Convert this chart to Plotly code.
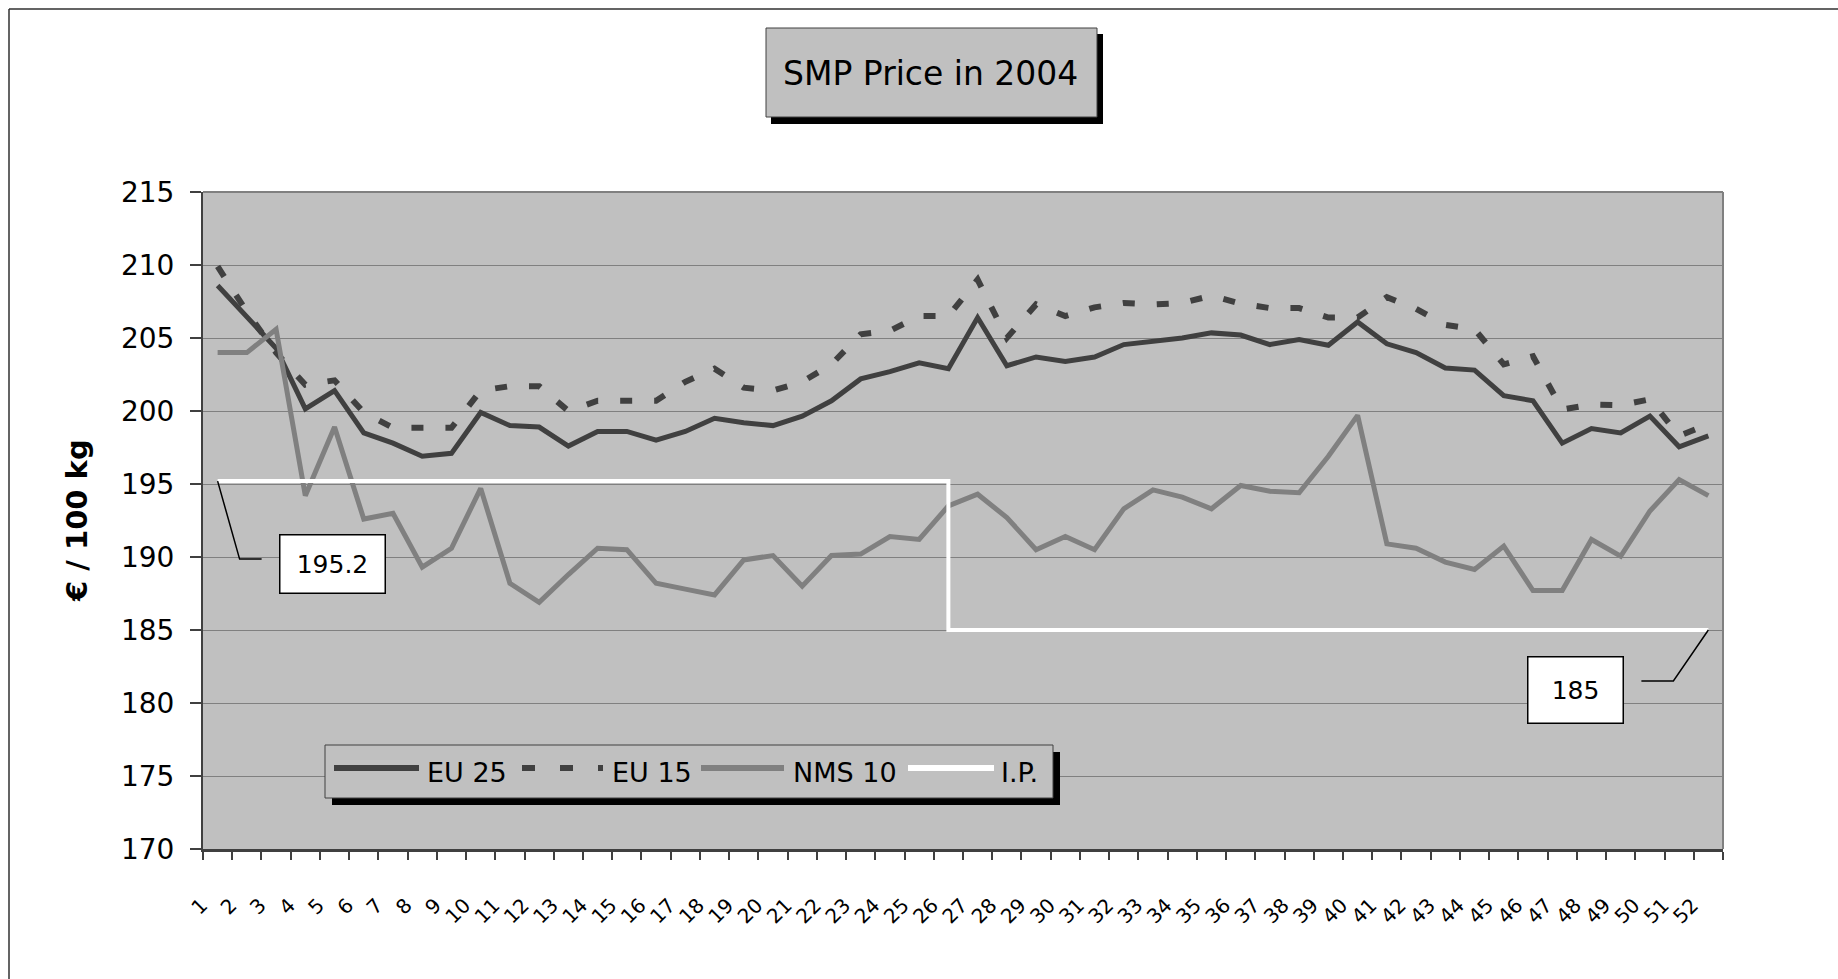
import plotly.graph_objects as go

# ---------------- data ----------------
weeks = list(range(1, 53))
week_labels = [str(w) for w in weeks]

eu25 = [208.6, 206.5, 204.3, 200.15, 201.4, 198.5, 197.8, 196.9, 197.1, 199.9,
        199.0, 198.9, 197.6, 198.6, 198.6, 198.0, 198.6, 199.5, 199.2, 199.0,
        199.65, 200.7, 202.2, 202.7, 203.3, 202.9, 206.4, 203.1, 203.7, 203.4,
        203.7, 204.55, 204.8, 205.0, 205.35, 205.2, 204.55, 204.9, 204.5, 206.1,
        204.6, 204.0, 202.95, 202.8, 201.05, 200.7, 197.8, 198.8, 198.5, 199.65,
        197.55, 198.3]

eu15 = [209.9, 206.8, 204.0, 201.8, 202.1, 199.9, 198.85, 198.8, 198.85, 201.4,
        201.7, 201.7, 200.0, 200.7, 200.7, 200.7, 202.0, 202.9, 201.6, 201.4,
        202.0, 203.2, 205.25, 205.5, 206.5, 206.5, 209.0, 205.0, 207.3, 206.5,
        207.1, 207.4, 207.3, 207.4, 207.9, 207.35, 207.05, 207.05, 206.4, 206.4,
        207.8, 207.0, 205.9, 205.6, 203.2, 203.75, 200.1, 200.45, 200.4, 200.8,
        198.3, 199.1]

nms10 = [204.0, 204.0, 205.6, 194.2, 198.9, 192.6, 193.0, 189.3, 190.6, 194.7,
         188.2, 186.9, 188.8, 190.6, 190.5, 188.2, 187.8, 187.4, 189.8, 190.1,
         188.0, 190.1, 190.2, 191.4, 191.2, 193.5, 194.3, 192.7, 190.5, 191.4,
         190.5, 193.3, 194.6, 194.1, 193.3, 194.9, 194.5, 194.4, 196.9, 199.7,
         190.9, 190.6, 189.65, 189.15, 190.75, 187.7, 187.7, 191.2, 190.05, 193.15,
         195.3, 194.2]

ip_weeks = [1, 26, 26, 52]
ip_values = [195.2, 195.2, 185.0, 185.0]

y_ticks = [170, 175, 180, 185, 190, 195, 200, 205, 210, 215]

title_text = "SMP Price in 2004"
y_title = "€ / 100 kg"
series_names = ["EU 25", "EU 15", "NMS 10", "I.P."]
ip_first_label = "195.2"
ip_second_label = "185"

# ---------------- layout geometry (pixels) ----------------
W, H = 1838, 979
L, R, T, B = 203, 1723, 192, 849
FONT = "DejaVu Sans"
DARK = "#404040"
MID = "#808080"
BG = "#c0c0c0"


def px(x):
    return (x - L) / (R - L)


def py(y):
    return (B - y) / (B - T)


fig = go.Figure()

fig.add_trace(go.Scatter(x=weeks, y=eu25, mode="lines", name=series_names[0],
                         line=dict(color=DARK, width=5)))
fig.add_trace(go.Scatter(x=weeks, y=eu15, mode="lines", name=series_names[1],
                         line=dict(color=DARK, width=6, dash="12px,22px")))
fig.add_trace(go.Scatter(x=weeks, y=nms10, mode="lines", name=series_names[2],
                         line=dict(color=MID, width=5)))
fig.add_trace(go.Scatter(x=ip_weeks, y=ip_values, mode="lines", name=series_names[3],
                         line=dict(color="white", width=4)))

shapes = []
annotations = []

# outer chart border (top and left)
shapes.append(dict(type="line", xref="paper", yref="paper", x0=px(9), x1=px(W + 5),
                   y0=py(9), y1=py(9), line=dict(color="#303030", width=1.5)))
shapes.append(dict(type="line", xref="paper", yref="paper", x0=px(9), x1=px(9),
                   y0=py(9), y1=py(H + 5), line=dict(color="#303030", width=1.5)))

# plot area top/right border
shapes.append(dict(type="line", xref="paper", yref="paper", x0=0, x1=1, y0=1, y1=1,
                   line=dict(color=MID, width=2)))
shapes.append(dict(type="line", xref="paper", yref="paper", x0=1, x1=1, y0=0, y1=1,
                   line=dict(color=MID, width=2)))

# title box with shadow
shapes.append(dict(type="rect", xref="paper", yref="paper", x0=px(771), x1=px(1103),
                   y0=py(34), y1=py(124), fillcolor="black", line=dict(width=0)))
shapes.append(dict(type="rect", xref="paper", yref="paper", x0=px(766), x1=px(1097),
                   y0=py(28), y1=py(117), fillcolor=BG, line=dict(color=DARK, width=1)))
annotations.append(dict(text=title_text, xref="paper", yref="paper", x=px(930), y=py(73),
                        showarrow=False, xanchor="center", yanchor="middle",
                        font=dict(family=FONT, size=33, color="black")))

# y-axis title
annotations.append(dict(text="<b>" + y_title + "</b>", xref="paper", yref="paper",
                        x=px(77), y=py(521), showarrow=False, textangle=-90,
                        xanchor="center", yanchor="middle",
                        font=dict(family=FONT, size=29, color="black")))

# legend (drawn) with shadow
shapes.append(dict(type="rect", xref="paper", yref="paper", x0=px(332), x1=px(1060),
                   y0=py(752), y1=py(805), fillcolor="black", line=dict(width=0),
                   layer="above"))
shapes.append(dict(type="rect", xref="paper", yref="paper", x0=px(325), x1=px(1053),
                   y0=py(745), y1=py(798), fillcolor=BG, line=dict(color=DARK, width=1),
                   layer="above"))
leg_y = py(768)
legend_items = [
    (334, 419, DARK, None, 425),
    (522, 603, DARK, "13px,25px", 610),
    (701, 784, MID, None, 791),
    (908, 994, "white", None, 999),
]
for (xa, xb, col, dash, tx), name in zip(legend_items, series_names):
    ln = dict(color=col, width=6)
    if dash:
        ln["dash"] = dash
    shapes.append(dict(type="line", xref="paper", yref="paper", x0=px(xa), x1=px(xb),
                       y0=leg_y, y1=leg_y, line=ln, layer="above"))
    annotations.append(dict(text=name, xref="paper", yref="paper", x=px(tx), y=py(772),
                            showarrow=False, xanchor="left", yanchor="middle",
                            font=dict(family=FONT, size=27, color="black")))

# I.P. value callouts
shapes.append(dict(type="path", xref="x", yref="y", xsizemode="pixel", ysizemode="pixel",
                   xanchor=ip_weeks[0], yanchor=ip_values[0],
                   path="M0,0 L22,-78 L44,-78", line=dict(color="black", width=1.5)))
annotations.append(dict(text=ip_first_label, xref="x", yref="y", x=ip_weeks[0], y=ip_values[0],
                        xshift=114.5, yshift=-82.5, showarrow=False,
                        width=104, height=57, bgcolor="white", bordercolor="black",
                        borderwidth=1.5, borderpad=0,
                        font=dict(family=FONT, size=25, color="black")))
shapes.append(dict(type="path", xref="x", yref="y", xsizemode="pixel", ysizemode="pixel",
                   xanchor=ip_weeks[-1], yanchor=ip_values[-1],
                   path="M0,0 L-35,-51 L-67,-51", line=dict(color="black", width=1.5)))
annotations.append(dict(text=ip_second_label, xref="x", yref="y", x=ip_weeks[-1], y=ip_values[-1],
                        xshift=-132.5, yshift=-60, showarrow=False,
                        width=94, height=65, bgcolor="white", bordercolor="black",
                        borderwidth=1.5, borderpad=0,
                        font=dict(family=FONT, size=25, color="black")))

fig.update_layout(
    width=W, height=H,
    margin=dict(l=L, r=W - R, t=T, b=H - B, pad=0),
    paper_bgcolor="white",
    plot_bgcolor=BG,
    showlegend=False,
    shapes=shapes,
    annotations=annotations,
    font=dict(family=FONT, color="black"),
)

fig.update_xaxes(
    range=[0.5, 52.5],
    tickmode="array", tickvals=weeks, ticktext=week_labels,
    ticks="", tickangle=-45,
    tickfont=dict(family=FONT, size=20, color="black"),
    ticklabelstandoff=34, ticklabelshift=-16,
    showgrid=False, zeroline=False,
    showline=True, linecolor=DARK, linewidth=2.5,
    minor=dict(tickmode="array", tickvals=[w - 0.5 for w in weeks] + [weeks[-1] + 0.5],
               ticks="outside", ticklen=8, tickwidth=1.5, tickcolor=DARK, showgrid=False),
)

fig.update_yaxes(
    range=[y_ticks[0], y_ticks[-1]],
    tickmode="array", tickvals=y_ticks,
    ticks="outside", ticklen=11, tickwidth=1.5, tickcolor=DARK,
    tickfont=dict(family=FONT, size=28, color="black"),
    ticklabelstandoff=10,
    showgrid=True, gridcolor=MID, gridwidth=1,
    zeroline=False,
    showline=True, linecolor=DARK, linewidth=2,
)

fig.write_html("out.html", config={"displayModeBar": False},
               post_script="document.body.style.margin='0';document.body.style.overflow='hidden';")
